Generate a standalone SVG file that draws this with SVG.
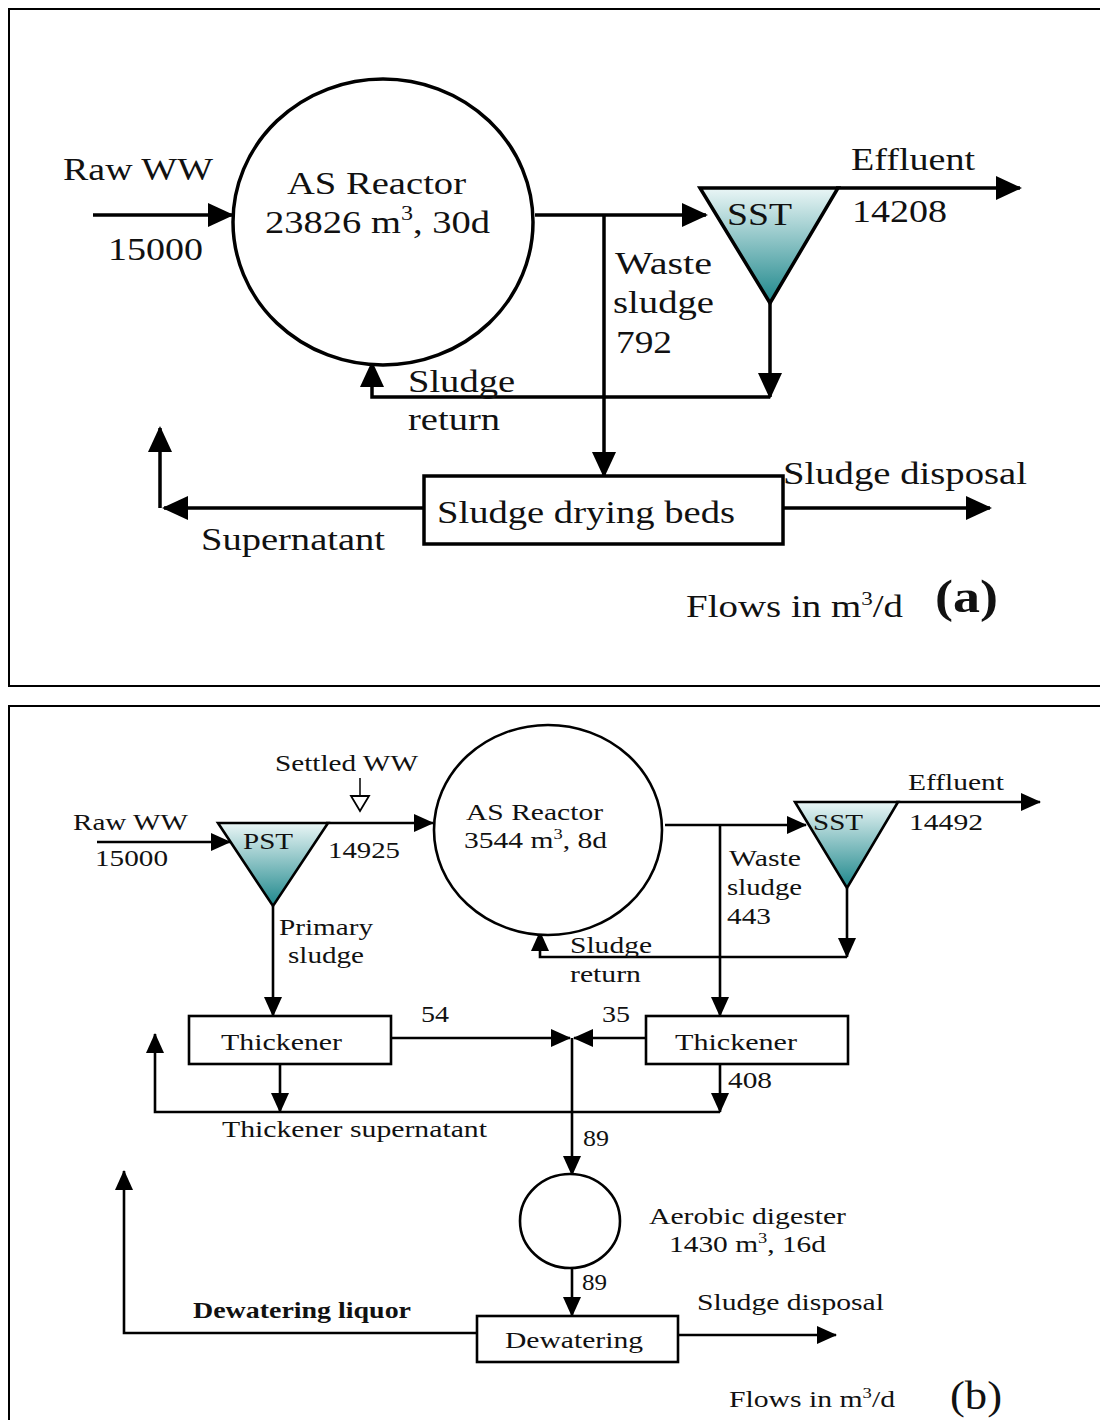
<svg xmlns="http://www.w3.org/2000/svg" width="1100" height="1420" viewBox="0 0 1100 1420">
<style>
text{font-family:"Liberation Serif","Times New Roman",serif;fill:#111}
.a{font-size:32px}
.b{font-size:24px}
.ln{fill:none;stroke:#000;stroke-width:3.5}
.ln2{fill:none;stroke:#000;stroke-width:2.6}
.box{fill:#fff;stroke:#000;stroke-width:3.5}
.box2{fill:#fff;stroke:#000;stroke-width:2.6}
.frame{fill:none;stroke:#000;stroke-width:2}
</style>
<defs>
<linearGradient id="teal" x1="0" y1="0" x2="0" y2="1">
<stop offset="0" stop-color="#eaf6f6"/>
<stop offset="1" stop-color="#1d878b"/>
</linearGradient>
<marker id="ah" markerUnits="userSpaceOnUse" markerWidth="26" markerHeight="24" refX="24" refY="12" orient="auto">
<path d="M0,0 L26,12 L0,24 z" fill="#000"/>
</marker>
<marker id="ah2" markerUnits="userSpaceOnUse" markerWidth="20" markerHeight="18" refX="19" refY="9" orient="auto">
<path d="M0,0 L20,9 L0,18 z" fill="#000"/>
</marker>
</defs>
<rect width="1100" height="1420" fill="#fff"/>
<rect class="frame" x="9" y="9" width="1100" height="677"/>
<rect class="frame" x="9" y="706" width="1100" height="730"/>
<g id="connectors-a">
<path class="ln" d="M93,215 H232" marker-end="url(#ah)"/>
<path class="ln" d="M535,215 H706" marker-end="url(#ah)"/>
<path class="ln" d="M836,188 H1020" marker-end="url(#ah)"/>
<path class="ln" d="M770,303 V397" marker-end="url(#ah)"/>
<path class="ln" d="M770,397 H372 V363" marker-end="url(#ah)"/>
<path class="ln" d="M604,215 V476" marker-end="url(#ah)"/>
<path class="ln" d="M424,508 H164" marker-end="url(#ah)"/>
<path class="ln" d="M160,508 V428" marker-end="url(#ah)"/>
<path class="ln" d="M783,508 H990" marker-end="url(#ah)"/>
</g>
<g id="reactor-a">
<ellipse cx="383" cy="222" rx="150" ry="143" fill="#fff" stroke="#000" stroke-width="3.5"/>
<text class="a" x="287" y="194" textLength="179" lengthAdjust="spacingAndGlyphs">AS Reactor</text>
<text class="a" x="265" y="233" textLength="225" lengthAdjust="spacingAndGlyphs">23826 m<tspan font-size="20" dy="-13">3</tspan><tspan dy="13">, 30d</tspan></text>
</g>
<g id="sst-a">
<polygon points="700,188 838,188 770,303" fill="url(#teal)" stroke="#000" stroke-width="3.5" stroke-linejoin="miter"/>
<text class="a" x="727" y="225" textLength="65" lengthAdjust="spacingAndGlyphs">SST</text>
</g>
<g id="beds-a">
<rect class="box" x="424" y="476" width="359" height="68"/>
<text class="a" x="437" y="523" font-size="34" textLength="298" lengthAdjust="spacingAndGlyphs">Sludge drying beds</text>
</g>
<g id="labels-a">
<text class="a" x="63" y="180" textLength="150" lengthAdjust="spacingAndGlyphs">Raw WW</text>
<text class="a" x="108" y="260" textLength="95" lengthAdjust="spacingAndGlyphs">15000</text>
<text class="a" x="851" y="170" textLength="124" lengthAdjust="spacingAndGlyphs">Effluent</text>
<text class="a" x="852" y="222" textLength="95" lengthAdjust="spacingAndGlyphs">14208</text>
<text class="a" x="615" y="274" textLength="97" lengthAdjust="spacingAndGlyphs">Waste</text>
<text class="a" x="613" y="313" textLength="101" lengthAdjust="spacingAndGlyphs">sludge</text>
<text class="a" x="616" y="353" textLength="56" lengthAdjust="spacingAndGlyphs">792</text>
<text class="a" x="408" y="392" textLength="107" lengthAdjust="spacingAndGlyphs">Sludge</text>
<text class="a" x="408" y="430" textLength="92" lengthAdjust="spacingAndGlyphs">return</text>
<text class="a" x="201" y="550" textLength="184" lengthAdjust="spacingAndGlyphs">Supernatant</text>
<text class="a" x="783" y="484" textLength="244" lengthAdjust="spacingAndGlyphs">Sludge disposal</text>
<text class="a" x="686" y="617" textLength="217" lengthAdjust="spacingAndGlyphs">Flows in m<tspan font-size="19" dy="-12">3</tspan><tspan dy="12">/d</tspan></text>
<text x="935" y="612" font-size="46" font-weight="bold" textLength="63" lengthAdjust="spacingAndGlyphs">(a)</text>
</g>
<g id="connectors-b">
<path class="ln2" d="M97,842 H230" marker-end="url(#ah2)"/>
<path class="ln2" d="M326,823 H433" marker-end="url(#ah2)"/>
<path class="ln2" d="M665,825 H806" marker-end="url(#ah2)"/>
<path class="ln2" d="M896,802 H1040" marker-end="url(#ah2)"/>
<path class="ln2" d="M847,888 V957" marker-end="url(#ah2)"/>
<path class="ln2" d="M847,957 H540 V932" marker-end="url(#ah2)"/>
<path class="ln2" d="M720,825 V1016" marker-end="url(#ah2)"/>
<path class="ln2" d="M273,906 V1016" marker-end="url(#ah2)"/>
<path class="ln2" d="M391,1038 H570" marker-end="url(#ah2)"/>
<path class="ln2" d="M646,1038 H574" marker-end="url(#ah2)"/>
<path class="ln2" d="M572,1038 V1175" marker-end="url(#ah2)"/>
<path class="ln2" d="M280,1064 V1112" marker-end="url(#ah2)"/>
<path class="ln2" d="M720,1064 V1112" marker-end="url(#ah2)"/>
<path class="ln2" d="M720,1112 H155 V1034" marker-end="url(#ah2)"/>
<path class="ln2" d="M572,1268 V1316" marker-end="url(#ah2)"/>
<path class="ln2" d="M477,1333 H124 V1171" marker-end="url(#ah2)"/>
<path class="ln2" d="M678,1335 H836" marker-end="url(#ah2)"/>
<path d="M360,778 V796" fill="none" stroke="#000" stroke-width="1.5"/>
<polygon points="351,796 369,796 360,811" fill="#fff" stroke="#000" stroke-width="1.8"/>
</g>
<g id="pst-b">
<polygon points="218,823 328,823 273,906" fill="url(#teal)" stroke="#000" stroke-width="2.6"/>
<text class="b" x="243" y="849" textLength="50" lengthAdjust="spacingAndGlyphs">PST</text>
</g>
<g id="reactor-b">
<ellipse cx="548" cy="830" rx="114" ry="105" fill="#fff" stroke="#000" stroke-width="2.6"/>
<text class="b" x="466" y="820" textLength="137" lengthAdjust="spacingAndGlyphs">AS Reactor</text>
<text class="b" x="464" y="848" textLength="143" lengthAdjust="spacingAndGlyphs">3544 m<tspan font-size="15" dy="-9">3</tspan><tspan dy="9">, 8d</tspan></text>
</g>
<g id="sst-b">
<polygon points="795,802 898,802 847,888" fill="url(#teal)" stroke="#000" stroke-width="2.6"/>
<text class="b" x="813" y="830" textLength="50" lengthAdjust="spacingAndGlyphs">SST</text>
</g>
<g id="thickener1-b">
<rect class="box2" x="189" y="1016" width="202" height="48"/>
<text class="b" x="221" y="1050" textLength="121" lengthAdjust="spacingAndGlyphs">Thickener</text>
</g>
<g id="thickener2-b">
<rect class="box2" x="646" y="1016" width="202" height="48"/>
<text class="b" x="675" y="1050" textLength="122" lengthAdjust="spacingAndGlyphs">Thickener</text>
</g>
<g id="digester-b">
<ellipse cx="570" cy="1221" rx="50" ry="47" fill="#fff" stroke="#000" stroke-width="2.6"/>
</g>
<g id="dewatering-b">
<rect class="box2" x="477" y="1316" width="201" height="46"/>
<text class="b" x="505" y="1348" textLength="138" lengthAdjust="spacingAndGlyphs">Dewatering</text>
</g>
<g id="labels-b">
<text class="b" x="275" y="771" textLength="143" lengthAdjust="spacingAndGlyphs">Settled WW</text>
<text class="b" x="73" y="830" textLength="115" lengthAdjust="spacingAndGlyphs">Raw WW</text>
<text class="b" x="95" y="866" textLength="73" lengthAdjust="spacingAndGlyphs">15000</text>
<text class="b" x="328" y="858" textLength="72" lengthAdjust="spacingAndGlyphs">14925</text>
<text class="b" x="908" y="790" textLength="96" lengthAdjust="spacingAndGlyphs">Effluent</text>
<text class="b" x="909" y="830" textLength="74" lengthAdjust="spacingAndGlyphs">14492</text>
<text class="b" x="729" y="866" textLength="72" lengthAdjust="spacingAndGlyphs">Waste</text>
<text class="b" x="727" y="895" textLength="75" lengthAdjust="spacingAndGlyphs">sludge</text>
<text class="b" x="727" y="924" textLength="44" lengthAdjust="spacingAndGlyphs">443</text>
<text class="b" x="279" y="935" textLength="94" lengthAdjust="spacingAndGlyphs">Primary</text>
<text class="b" x="288" y="963" textLength="76" lengthAdjust="spacingAndGlyphs">sludge</text>
<text class="b" x="570" y="953" textLength="82" lengthAdjust="spacingAndGlyphs">Sludge</text>
<text class="b" x="570" y="982" textLength="71" lengthAdjust="spacingAndGlyphs">return</text>
<text class="b" x="421" y="1022" textLength="28" lengthAdjust="spacingAndGlyphs">54</text>
<text class="b" x="602" y="1022" textLength="28" lengthAdjust="spacingAndGlyphs">35</text>
<text class="b" x="728" y="1088" textLength="44" lengthAdjust="spacingAndGlyphs">408</text>
<text class="b" x="222" y="1137" textLength="265" lengthAdjust="spacingAndGlyphs">Thickener supernatant</text>
<text class="b" x="583" y="1146" textLength="26" lengthAdjust="spacingAndGlyphs">89</text>
<text class="b" x="649" y="1224" textLength="197" lengthAdjust="spacingAndGlyphs">Aerobic digester</text>
<text class="b" x="669" y="1252" textLength="157" lengthAdjust="spacingAndGlyphs">1430 m<tspan font-size="15" dy="-9">3</tspan><tspan dy="9">, 16d</tspan></text>
<text class="b" x="582" y="1290" textLength="25" lengthAdjust="spacingAndGlyphs">89</text>
<text class="b" x="193" y="1318" font-weight="bold" textLength="218" lengthAdjust="spacingAndGlyphs">Dewatering liquor</text>
<text class="b" x="697" y="1310" textLength="187" lengthAdjust="spacingAndGlyphs">Sludge disposal</text>
<text class="b" x="729" y="1407" textLength="166" lengthAdjust="spacingAndGlyphs">Flows in m<tspan font-size="15" dy="-9">3</tspan><tspan dy="9">/d</tspan></text>
<text x="950" y="1409" font-size="40" textLength="52" lengthAdjust="spacingAndGlyphs">(b)</text>
</g>
</svg>
